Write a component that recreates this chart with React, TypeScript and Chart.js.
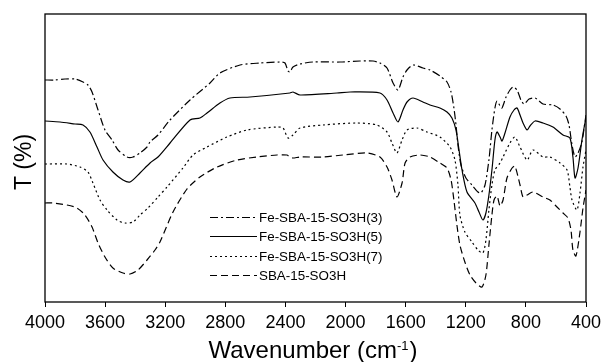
import React, { useEffect, useRef } from 'react';
import { Chart, registerables } from 'chart.js';

Chart.register(...registerables);

// Fe-SBA-15-SO3H(3)
const wn3 = [4000, 3933, 3867, 3800, 3747, 3714, 3687, 3647, 3601, 3554, 3514, 3454, 3414, 3368, 3321, 3301, 3248, 3168, 3035, 2902, 2836, 2702, 2569, 2436, 2403, 2383, 2370, 2350, 2303, 2217, 2037, 1904, 1817, 1771, 1724, 1684, 1651, 1618, 1591, 1551, 1485, 1438, 1372, 1325, 1298, 1279, 1265, 1252, 1232, 1199, 1159, 1119, 1099, 1072, 1046, 1026, 1006, 992, 972, 959, 932, 906, 886, 859, 833, 812, 779, 739, 686, 620, 573, 533, 513, 493, 473, 453, 427, 407, 400];
const t3 = [222, 222, 223, 223, 220, 217, 210, 192, 172, 162, 152, 145, 145, 149, 155, 160, 167, 182, 202, 219, 229, 237, 239, 240, 239, 231, 230, 235, 238, 240, 240, 241, 241, 239, 234, 219, 212, 225, 232, 237, 234, 232, 226, 220, 210, 194, 177, 157, 137, 124, 117, 110, 109, 117, 142, 172, 194, 201, 196, 194, 205, 212, 215, 212, 202, 198, 203, 204, 198, 197, 193, 186, 177, 157, 145, 149, 160, 180, 187];

// Fe-SBA-15-SO3H(5)
const wn5 = [4000, 3900, 3800, 3747, 3701, 3654, 3614, 3548, 3481, 3434, 3368, 3301, 3248, 3168, 3035, 2969, 2922, 2836, 2769, 2636, 2370, 2350, 2303, 2057, 1970, 1771, 1724, 1684, 1651, 1618, 1591, 1551, 1485, 1438, 1372, 1325, 1292, 1265, 1245, 1225, 1192, 1139, 1112, 1086, 1066, 1046, 1026, 1006, 992, 972, 959, 939, 906, 879, 859, 839, 819, 792, 773, 739, 686, 620, 553, 507, 487, 473, 453, 427, 407, 400];
const t5 = [181, 180, 178, 177, 170, 155, 142, 130, 122, 120, 129, 139, 145, 159, 182, 184, 189, 199, 204, 205, 209, 210, 207, 209, 210, 209, 202, 189, 180, 192, 200, 204, 200, 197, 194, 190, 184, 172, 152, 132, 110, 99, 90, 82, 89, 107, 132, 162, 170, 165, 161, 169, 185, 192, 194, 187, 179, 172, 176, 181, 179, 175, 167, 164, 145, 124, 134, 162, 179, 183];

// Fe-SBA-15-SO3H(7)
const wn7 = [4000, 3980, 3854, 3767, 3714, 3681, 3634, 3587, 3521, 3468, 3414, 3368, 3315, 3248, 3188, 3082, 3015, 2922, 2789, 2656, 2456, 2416, 2383, 2350, 2303, 2150, 1924, 1791, 1724, 1691, 1658, 1624, 1591, 1525, 1458, 1372, 1305, 1272, 1252, 1239, 1206, 1159, 1119, 1086, 1066, 1046, 1026, 1006, 972, 952, 906, 873, 839, 792, 753, 686, 640, 573, 526, 507, 493, 460, 440, 420, 400];
const t7 = [138, 138, 138, 135, 130, 119, 102, 92, 82, 79, 80, 87, 94, 105, 115, 134, 147, 155, 165, 172, 175, 174, 164, 167, 174, 177, 179, 177, 170, 159, 149, 162, 172, 174, 170, 165, 155, 142, 117, 87, 70, 60, 52, 49, 62, 92, 117, 132, 139, 145, 159, 165, 155, 142, 152, 145, 145, 139, 132, 115, 102, 92, 109, 135, 152];

// SBA-15-SO3H
const wnS = [4000, 3947, 3854, 3787, 3734, 3687, 3647, 3601, 3548, 3481, 3434, 3381, 3321, 3268, 3235, 3148, 3055, 2969, 2855, 2722, 2589, 2456, 2390, 2370, 2350, 2303, 2150, 2017, 1857, 1771, 1724, 1691, 1658, 1624, 1604, 1571, 1505, 1438, 1372, 1325, 1298, 1279, 1259, 1239, 1206, 1172, 1132, 1092, 1066, 1046, 1026, 1012, 992, 972, 952, 926, 892, 873, 839, 819, 792, 753, 686, 640, 593, 553, 520, 500, 487, 467, 440, 420, 400];
const tS = [99, 99, 97, 94, 87, 75, 59, 45, 34, 29, 28, 32, 42, 52, 60, 90, 113, 125, 135, 142, 145, 147, 147, 145, 144, 145, 145, 147, 149, 145, 135, 122, 105, 119, 139, 145, 147, 145, 139, 134, 122, 102, 77, 57, 40, 27, 19, 15, 27, 57, 87, 102, 106, 96, 102, 124, 134, 136, 117, 105, 107, 110, 105, 102, 95, 89, 84, 72, 52, 46, 70, 94, 112];

const seriesNames = ['Fe-SBA-15-SO3H(3)', 'Fe-SBA-15-SO3H(5)', 'Fe-SBA-15-SO3H(7)', 'SBA-15-SO3H'];
const xTickValues = [4000, 3600, 3200, 2800, 2400, 2000, 1600, 1200, 800, 400];

const FONT = '"Liberation Sans", Arial, Helvetica, sans-serif';

function toPoints(xs: number[], ys: number[]) {
  return xs.map((x, i) => ({ x, y: ys[i] }));
}

const AREA = { left: 45, top: 14, right: 586, bottom: 302 };

const fixLayoutPlugin = {
  id: 'fixLayout',
  afterLayout(chart: any) {
    const { left, top, right, bottom } = AREA;
    chart.chartArea = { left, top, right, bottom, width: right - left, height: bottom - top };
    const xs = chart.scales.x;
    xs.left = left; xs.right = right; xs.width = right - left;
    xs.top = bottom; xs.bottom = 362; xs.height = 362 - bottom;
    xs.paddingLeft = 0; xs.paddingRight = 0;
    xs.configure();
    const ys = chart.scales.y;
    ys.left = 0; ys.right = left; ys.width = left;
    ys.top = top; ys.bottom = bottom; ys.height = bottom - top;
    ys.configure();
  },
};

const framePlugin = {
  id: 'framePlugin',
  afterDraw(chart: any) {
    const { ctx, chartArea } = chart;
    const { left, top, right, bottom } = chartArea;
    ctx.save();
    ctx.strokeStyle = '#000';
    ctx.lineWidth = 1.3;
    ctx.setLineDash([]);
    ctx.strokeRect(left, top, right - left, bottom - top);

    // legend
    const rowY = [217, 236, 256, 275];
    const lx0 = 210;
    const lx1 = 257;
    ctx.font = `13.4px ${FONT}`;
    ctx.fillStyle = '#000';
    ctx.textBaseline = 'middle';
    ctx.textAlign = 'left';
    chart.data.datasets.forEach((ds: any, i: number) => {
      ctx.beginPath();
      ctx.lineWidth = 1.2;
      ctx.setLineDash(ds.borderDash || []);
      ctx.moveTo(lx0, rowY[i] + 0.5);
      ctx.lineTo(lx1, rowY[i] + 0.5);
      ctx.stroke();
      ctx.setLineDash([]);
      ctx.fillText(ds.label, lx1 + 2, rowY[i] + 1);
    });

    // x title with superscript
    const mainTxt = 'Wavenumber (cm';
    const supTxt = '-1';
    const endTxt = ')';
    ctx.textBaseline = 'alphabetic';
    ctx.font = `24px ${FONT}`;
    const w1 = ctx.measureText(mainTxt).width;
    const w3 = ctx.measureText(endTxt).width;
    ctx.font = `13px ${FONT}`;
    const w2 = ctx.measureText(supTxt).width;
    const total = w1 + w2 + w3 + 1;
    let x = 313 - total / 2;
    const base = 358;
    ctx.font = `24px ${FONT}`;
    ctx.fillText(mainTxt, x, base);
    x += w1;
    ctx.font = `13px ${FONT}`;
    ctx.fillText(supTxt, x, base - 8);
    x += w2 + 1;
    ctx.font = `24px ${FONT}`;
    ctx.fillText(endTxt, x, base);

    // y title
    ctx.save();
    ctx.translate(31, 162);
    ctx.rotate(-Math.PI / 2);
    ctx.font = `23px ${FONT}`;
    ctx.textAlign = 'center';
    ctx.textBaseline = 'alphabetic';
    ctx.fillText('T (%)', 0, 0);
    ctx.restore();

    ctx.restore();
  },
};

export default function App() {
  const canvasRef = useRef<HTMLCanvasElement | null>(null);

  useEffect(() => {
    if (!canvasRef.current) return;
    const common = {
      borderColor: '#000',
      borderWidth: 1.2,
      pointRadius: 0,
      pointHoverRadius: 0,
      fill: false,
      tension: 0.25,
      showLine: true,
    };
    const chart = new Chart(canvasRef.current, {
      type: 'line',
      data: {
        datasets: [
          { ...common, label: seriesNames[0], data: toPoints(wn3, t3), borderDash: [8, 3, 2, 3] },
          { ...common, label: seriesNames[1], data: toPoints(wn5, t5), borderDash: [] },
          { ...common, label: seriesNames[2], data: toPoints(wn7, t7), borderDash: [2, 3] },
          { ...common, label: seriesNames[3], data: toPoints(wnS, tS), borderDash: [7, 4] },
        ],
      },
      options: {
        animation: false,
        responsive: false,
        maintainAspectRatio: false,
        events: [],
        layout: { padding: { left: 0, top: 14, right: 15, bottom: 0 }, autoPadding: false },
        plugins: {
          legend: { display: false },
          tooltip: { enabled: false },
          title: { display: false },
        },
        scales: {
          x: {
            type: 'linear',
            reverse: true,
            min: 400,
            max: 4000,
            afterFit: (scale: any) => {
              scale.height = 60;
            },
            afterBuildTicks: (scale: any) => {
              scale.ticks = xTickValues.map((v) => ({ value: v }));
            },
            ticks: {
              color: '#000',
              font: { family: FONT, size: 18 },
              padding: 5,
              maxRotation: 0,
              autoSkip: false,
              callback: (v: any) => String(v),
            },
            grid: {
              drawOnChartArea: false,
              drawTicks: true,
              tickLength: 5,
              color: '#000',
              lineWidth: 1,
            },
            border: { display: false },
          },
          y: {
            type: 'linear',
            min: 0,
            max: 288,
            afterFit: (scale: any) => {
              scale.width = 45;
            },
            ticks: { display: false },
            grid: { display: false },
            border: { display: false },
          },
        },
      },
      plugins: [fixLayoutPlugin, framePlugin],
    });
    return () => chart.destroy();
  }, []);

  return (
    <div style={{ position: 'fixed', left: 0, top: 0, width: 601, height: 362, background: '#fff' }}>
      <canvas ref={canvasRef} width={601} height={362} style={{ width: 601, height: 362, display: 'block' }} />
    </div>
  );
}
